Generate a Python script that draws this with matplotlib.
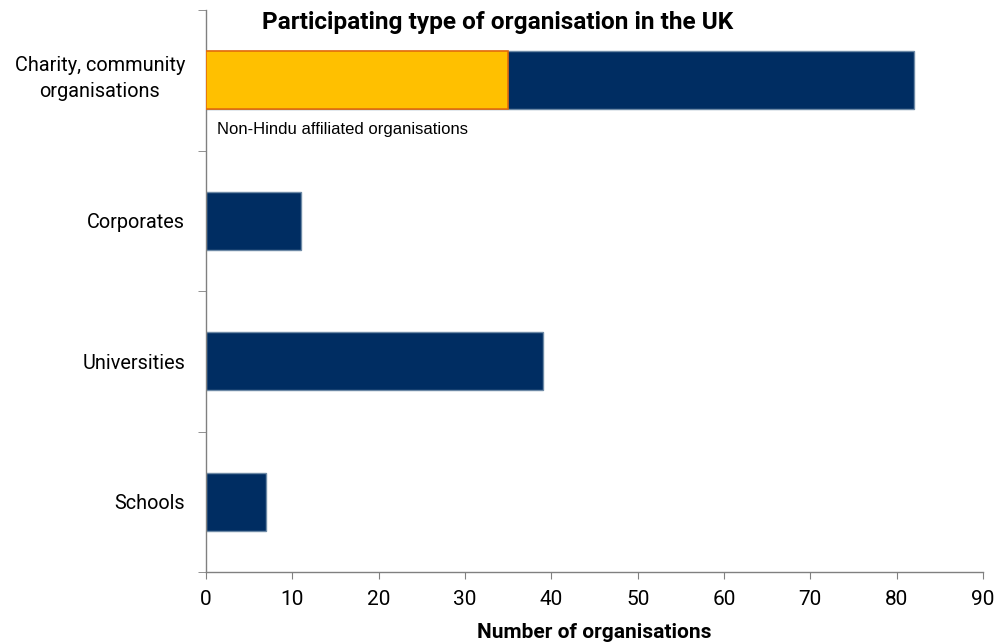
import matplotlib
matplotlib.use("Agg")
import matplotlib.pyplot as plt
import matplotlib.transforms as mtransforms
import numpy as np

categories = ["Charity, community\norganisations", "Corporates", "Universities", "Schools"]
totals = [82, 11, 39, 7]
non_hindu = [35, 0, 0, 0]
annotation = "Non-Hindu affiliated organisations"
x_ticks = [0, 10, 20, 30, 40, 50, 60, 70, 80, 90]

plt.rcParams["font.family"] = ["Roboto", "DejaVu Sans"]

fig = plt.figure(figsize=(9.97, 6.44), dpi=100)
ax = fig.add_axes([206 / 997, 1 - 572 / 644, (983 - 206) / 997, (572 - 10) / 644])

navy = "#002D62"
gold = "#FFC000"
y = np.arange(len(categories))
h = 0.41

ax.barh(y, totals, height=h, color=navy, edgecolor="#6E8AA6", linewidth=1.0, zorder=2)
ax.barh(y[0], non_hindu[0], height=h, color=gold, edgecolor="#E46C0A", linewidth=1.2, zorder=3)

ax.text(1.3, y[0] + 0.35, annotation, fontsize=12, family=["Liberation Sans", "DejaVu Sans"],
        va="center", ha="left", color="black")

ax.set_xlim(0, 90)
ax.set_ylim(len(categories) - 0.5, -0.5)
ax.set_xticks(x_ticks)
ax.set_xticklabels([str(t) for t in x_ticks], fontsize=15)
ax.set_yticks(y)
ax.set_yticklabels(categories, fontsize=14.3, ha="right", multialignment="center", linespacing=1.45)
ax.set_yticks(np.arange(-0.5, len(categories)), minor=True)
ax.tick_params(axis="y", which="major", length=0, pad=15)
ax.tick_params(axis="y", which="minor", length=6, color="#808080", direction="out")
ax.tick_params(axis="x", which="major", length=5, color="#808080", direction="out", pad=8)

# nudge the two-line category label up a little
lbl = ax.get_yticklabels()[0]
lbl.set_transform(lbl.get_transform() + mtransforms.ScaledTranslation(0, 5 / 72, fig.dpi_scale_trans))

for side in ["top", "right"]:
    ax.spines[side].set_visible(False)
for side in ["left", "bottom"]:
    ax.spines[side].set_color("#808080")
    ax.spines[side].set_linewidth(1.0)

ax.set_xlabel("Number of organisations", fontsize=15, fontweight="bold", labelpad=10)
fig.text(498 / 997, 1 - 22 / 644, "Participating type of organisation in the UK",
         fontsize=17.6, fontweight="bold", ha="center", va="center")

fig.savefig("out.png", dpi=100)
